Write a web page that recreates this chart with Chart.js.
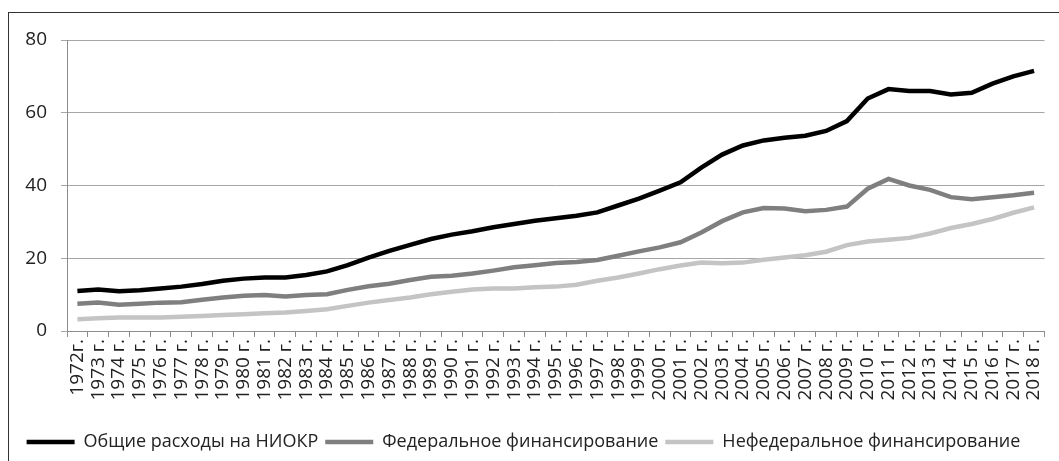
<!DOCTYPE html>
<html>
<head>
<meta charset="utf-8">
<script src="https://cdn.jsdelivr.net/npm/chart.js@4"></script>
<style>
    html, body { margin: 0; padding: 0; background: #fff; }
    #frame {
        position: absolute; left: 8px; top: 12px;
        width: 1200px; height: 600px;
        border: 1.5px solid #333;
    }
    #wrap { position: absolute; left: 0; top: 0; width: 1059px; height: 461px; }
</style>
</head>
<body>
<div id="frame"></div>
<div id="wrap"><canvas id="chart-niokr"></canvas></div>
<script>
// Годы (подписи оси X)
const years = [
    '1972г.', '1973 г.', '1974 г.', '1975 г.', '1976 г.', '1977 г.', '1978 г.', '1979 г.',
    '1980 г.', '1981 г.', '1982 г.', '1983 г.', '1984 г.', '1985 г.', '1986 г.', '1987 г.',
    '1988 г.', '1989 г.', '1990 г.', '1991 г.', '1992 г.', '1993 г.', '1994 г.', '1995 г.',
    '1996 г.', '1997 г.', '1998 г.', '1999 г.', '2000 г.', '2001 г.', '2002 г.', '2003 г.',
    '2004 г.', '2005 г.', '2006 г.', '2007 г.', '2008 г.', '2009 г.', '2010 г.', '2011 г.',
    '2012 г.', '2013 г.', '2014 г.', '2015 г.', '2016 г.', '2017 г.', '2018 г.'
];

// Общие расходы на НИОКР
const totalRD = [
    11, 11.4, 10.9, 11.2, 11.7, 12.2, 12.9, 13.8, 14.4, 14.7, 14.7, 15.4, 16.4, 18.1, 20.2, 22,
    23.7, 25.3, 26.5, 27.4, 28.5, 29.4, 30.3, 31.0, 31.7, 32.6, 34.5, 36.4, 38.6, 40.9, 44.9, 48.5,
    51, 52.4, 53.1, 53.7, 55, 57.7, 63.9, 66.5, 66.0, 66.0, 65.0, 65.5, 68, 70, 71.5
];

// Федеральное финансирование
const federal = [
    7.5, 7.8, 7.2, 7.5, 7.8, 7.9, 8.6, 9.2, 9.7, 9.9, 9.5, 9.9, 10.1, 11.3, 12.3, 13.0,
    14.0, 14.9, 15.2, 15.8, 16.6, 17.5, 18.1, 18.7, 19.0, 19.5, 20.7, 21.9, 23.0, 24.4, 27.1, 30.2,
    32.6, 33.8, 33.7, 32.9, 33.3, 34.2, 39.1, 41.8, 40.0, 38.8, 36.8, 36.2, 36.8, 37.3, 38.0
];

// Нефедеральное финансирование
const nonFederal = [
    3.2, 3.5, 3.7, 3.7, 3.7, 3.9, 4.1, 4.4, 4.6, 4.9, 5.1, 5.5, 6.0, 6.9, 7.8, 8.5,
    9.2, 10.1, 10.8, 11.4, 11.7, 11.7, 12.0, 12.2, 12.7, 13.8, 14.7, 15.8, 17.0, 18.0, 18.8, 18.6,
    18.8, 19.6, 20.2, 20.8, 21.8, 23.6, 24.6, 25.1, 25.6, 26.8, 28.3, 29.4, 30.8, 32.5, 34.0
];

const yTicks = [0, 20, 40, 60, 80];

const FONT = "'Open Sans', 'Noto Sans', sans-serif";
const textColor = '#222222';

Chart.defaults.font.family = FONT;
Chart.defaults.color = textColor;

const ctx = document.getElementById('chart-niokr');

new Chart(ctx, {
    type: 'line',
    data: {
        labels: years,
        datasets: [
            {
                label: 'Общие расходы на НИОКР',
                data: totalRD,
                borderColor: '#000000',
                backgroundColor: '#000000',
                borderWidth: 4.5,
                pointRadius: 0,
                tension: 0
            },
            {
                label: 'Федеральное финансирование',
                data: federal,
                borderColor: '#7f7f7f',
                backgroundColor: '#7f7f7f',
                borderWidth: 4.5,
                pointRadius: 0,
                tension: 0
            },
            {
                label: 'Нефедеральное финансирование',
                data: nonFederal,
                borderColor: '#c4c4c4',
                backgroundColor: '#c4c4c4',
                borderWidth: 4.5,
                pointRadius: 0,
                tension: 0
            }
        ]
    },
    options: {
        responsive: true,
        maintainAspectRatio: false,
        animation: false,
        layout: {
            padding: { top: 40, right: 12, left: 0, bottom: 0 }
        },
        plugins: {
            legend: {
                position: 'bottom',
                labels: {
                    usePointStyle: true,
                    pointStyle: 'line',
                    pointStyleWidth: 48,
                    boxHeight: 18,
                    padding: 7,
                    color: textColor,
                    font: { size: 18 }
                }
            },
            tooltip: { enabled: false }
        },
        scales: {
            x: {
                offset: true,
                grid: {
                    offset: true,
                    drawOnChartArea: false,
                    drawTicks: true,
                    tickLength: 6,
                    color: '#8c8c8c'
                },
                border: { color: '#8c8c8c' },
                ticks: {
                    autoSkip: false,
                    minRotation: 90,
                    maxRotation: 90,
                    padding: 2,
                    color: textColor,
                    font: { size: 19 }
                },
                afterFit: function(scale) {
                    scale.height = 95;
                }
            },
            y: {
                min: 0,
                max: 80,
                afterBuildTicks: function(scale) {
                    scale.ticks = yTicks.map(v => ({ value: v }));
                },
                grid: {
                    color: '#a6a6a6',
                    tickLength: 6
                },
                border: { color: '#8c8c8c' },
                ticks: {
                    padding: 14,
                    color: textColor,
                    font: { size: 19 }
                },
                afterFit: function(scale) {
                    scale.width = 67;
                }
            }
        }
    }
});
</script>
</body>
</html>
